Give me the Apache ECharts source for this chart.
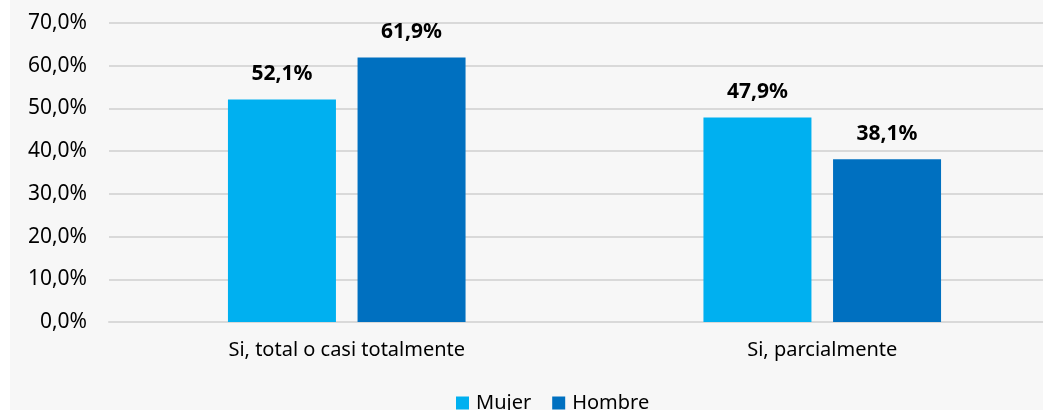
<!DOCTYPE html>
<html>
<head>
<meta charset="utf-8">
<script src="https://cdn.jsdelivr.net/npm/echarts@6/dist/echarts.min.js"></script>
<style>
  html, body { margin: 0; padding: 0; background: #ffffff; }
  #wrap { position: relative; width: 1043px; height: 411px; background: #ffffff; overflow: hidden; }
  #chart { position: absolute; left: 10px; top: 0; width: 1060px; height: 410px; }
</style>
</head>
<body>
<div id="wrap"><div id="chart"></div></div>
<script>
// Categories and series values (percent)
const categories = ['Si, total o casi totalmente', 'Si, parcialmente'];
const mujer = [52.1, 47.9];
const hombre = [61.9, 38.1];
const yTicks = [0, 10, 20, 30, 40, 50, 60, 70];

const FONT = '"Noto Sans", "Open Sans", sans-serif';
const fmt = v => v.toFixed(1).replace('.', ',') + '%';

const chart = echarts.init(document.getElementById('chart'));

const labelStyle = {
  show: true,
  position: 'top',
  distance: 15,
  fontFamily: FONT,
  fontSize: 21,
  fontWeight: 'bold',
  color: '#000000',
  formatter: p => fmt(p.value)
};

chart.setOption({
  backgroundColor: '#f7f7f7',
  animation: false,
  grid: { left: 99, top: 23, right: 10, height: 299, containLabel: false },
  xAxis: {
    type: 'category',
    data: categories,
    axisLine: { show: true, lineStyle: { color: '#d9d9d9', width: 2 } },
    axisTick: { show: false },
    axisLabel: { margin: 18, fontFamily: FONT, fontSize: 20, color: '#000000' }
  },
  yAxis: {
    type: 'value',
    min: yTicks[0],
    max: yTicks[yTicks.length - 1],
    interval: 10,
    axisLine: { show: false },
    axisTick: { show: false },
    splitLine: { lineStyle: { color: '#d9d9d9', width: 2 } },
    axisLabel: { margin: 22, fontFamily: FONT, fontSize: 21, color: '#000000', formatter: v => fmt(v) }
  },
  legend: {
    bottom: -3,
    left: 446,
    padding: 0,
    itemWidth: 13,
    itemHeight: 13,
    itemGap: 21,
    icon: 'rect',
    textStyle: { fontFamily: FONT, fontSize: 20, color: '#000000', padding: [0, 0, 0, 2] },
    data: ['Mujer', 'Hombre']
  },
  series: [
    {
      name: 'Mujer', type: 'bar', data: mujer,
      barWidth: 108, barGap: '20%',
      itemStyle: { color: '#00b0f0' },
      label: labelStyle
    },
    {
      name: 'Hombre', type: 'bar', data: hombre,
      barWidth: 108,
      itemStyle: { color: '#0070c0' },
      label: labelStyle
    }
  ]
});
</script>
</body>
</html>
